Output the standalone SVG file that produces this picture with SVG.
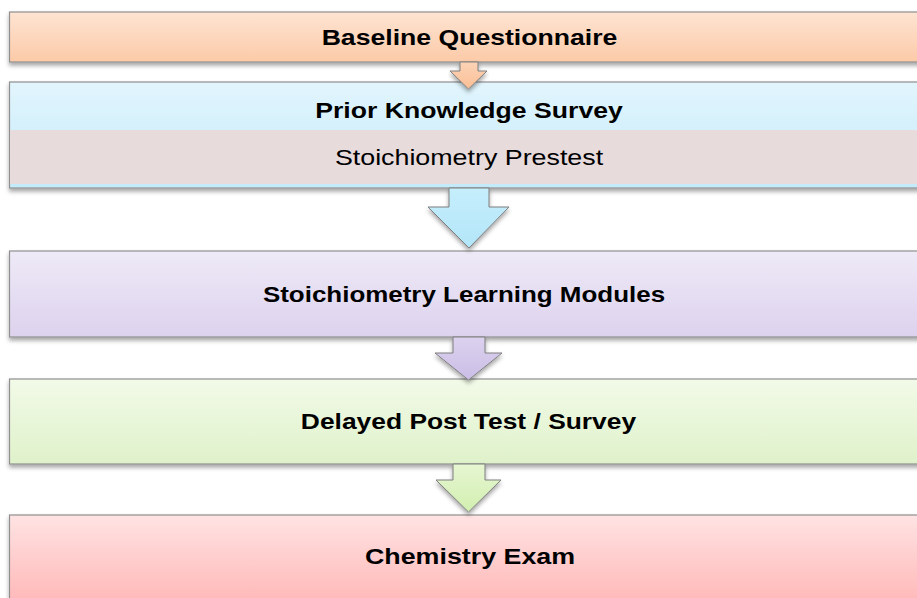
<svg xmlns="http://www.w3.org/2000/svg" width="917" height="598" viewBox="0 0 917 598">
  <defs>
    <linearGradient id="gPeach" x1="0" y1="0" x2="0" y2="1">
      <stop offset="0" stop-color="#fee4d2"/>
      <stop offset="1" stop-color="#fccaa8"/>
    </linearGradient>
    <linearGradient id="gBlue" x1="0" y1="0" x2="0" y2="1">
      <stop offset="0" stop-color="#e2f5fd"/>
      <stop offset="1" stop-color="#c4ebfa"/>
    </linearGradient>
    <linearGradient id="gLav" x1="0" y1="0" x2="0" y2="1">
      <stop offset="0" stop-color="#eeeaf7"/>
      <stop offset="1" stop-color="#ddd2ee"/>
    </linearGradient>
    <linearGradient id="gGreen" x1="0" y1="0" x2="0" y2="1">
      <stop offset="0" stop-color="#f2fae8"/>
      <stop offset="1" stop-color="#dff2ca"/>
    </linearGradient>
    <linearGradient id="gRed" x1="0" y1="0" x2="0" y2="1">
      <stop offset="0" stop-color="#ffe3e3"/>
      <stop offset="1" stop-color="#ffb2b2"/>
    </linearGradient>
    <linearGradient id="aPeach" x1="0" y1="0" x2="0" y2="1">
      <stop offset="0" stop-color="#fcd3b6"/>
      <stop offset="1" stop-color="#fbbf96"/>
    </linearGradient>
    <linearGradient id="aBlue" x1="0" y1="0" x2="0" y2="1">
      <stop offset="0" stop-color="#c6eefc"/>
      <stop offset="1" stop-color="#b2e6f9"/>
    </linearGradient>
    <linearGradient id="aLav" x1="0" y1="0" x2="0" y2="1">
      <stop offset="0" stop-color="#dcd2ee"/>
      <stop offset="1" stop-color="#cbbde6"/>
    </linearGradient>
    <linearGradient id="aGreen" x1="0" y1="0" x2="0" y2="1">
      <stop offset="0" stop-color="#e6f6d2"/>
      <stop offset="1" stop-color="#d2efb0"/>
    </linearGradient>
    <filter id="shadow" x="-5%" y="-20%" width="110%" height="150%">
      <feDropShadow dx="0" dy="3" stdDeviation="2" flood-color="#000" flood-opacity="0.35"/>
    </filter>
  </defs>
  <style>
    .box { stroke: #8f8f8f; stroke-width: 1.2; filter: url(#shadow); }
    .arrow { stroke: #7f7f7f; stroke-width: 1; filter: url(#shadow); }
    .t { font-family: "Liberation Sans", Arial, sans-serif; font-size: 22px; fill: #000; text-anchor: middle; }
    .b { font-weight: bold; }
  </style>

  <rect width="917" height="598" fill="#ffffff"/>

  <g id="node-baseline">
    <rect class="box" x="9.5" y="12" width="930" height="50" fill="url(#gPeach)"/>
    <text class="t b" transform="translate(469.5,45) scale(1.21,1)">Baseline Questionnaire</text>
  </g>

  <g id="node-prior">
    <rect class="box" x="9.5" y="82" width="930" height="106" fill="url(#gBlue)"/>
    <rect x="10" y="130" width="930" height="54" fill="#e7dbdc"/>
    <text class="t b" transform="translate(469,118) scale(1.21,1)">Prior Knowledge Survey</text>
    <text class="t" transform="translate(469,165) scale(1.22,1)">Stoichiometry Prestest</text>
  </g>

  <g id="node-modules">
    <rect class="box" x="9.5" y="251" width="930" height="86" fill="url(#gLav)"/>
    <text class="t b" transform="translate(464,302) scale(1.18,1)">Stoichiometry Learning Modules</text>
  </g>

  <g id="node-delayed">
    <rect class="box" x="9.5" y="379" width="930" height="85" fill="url(#gGreen)"/>
    <text class="t b" transform="translate(468.5,429) scale(1.2,1)">Delayed Post Test / Survey</text>
  </g>

  <g id="node-exam">
    <rect class="box" x="9.5" y="515" width="930" height="100" fill="url(#gRed)"/>
    <text class="t b" transform="translate(470,564) scale(1.22,1)">Chemistry Exam</text>
  </g>

  <g id="connectors">
    <path class="arrow" fill="url(#aPeach)" d="M460,62 H478 V71 H487 L468.5,89 L450,71 H460 Z"/>
    <path class="arrow" fill="url(#aBlue)" d="M449,188 H489 V207 H509 L469,248 L428,207 H449 Z"/>
    <path class="arrow" fill="url(#aLav)" d="M453,337 H485 V353 H502 L468.5,380 L435,353 H453 Z"/>
    <path class="arrow" fill="url(#aGreen)" d="M453,464 H485 V480 H501 L468.5,512 L436,480 H453 Z"/>
  </g>
</svg>
